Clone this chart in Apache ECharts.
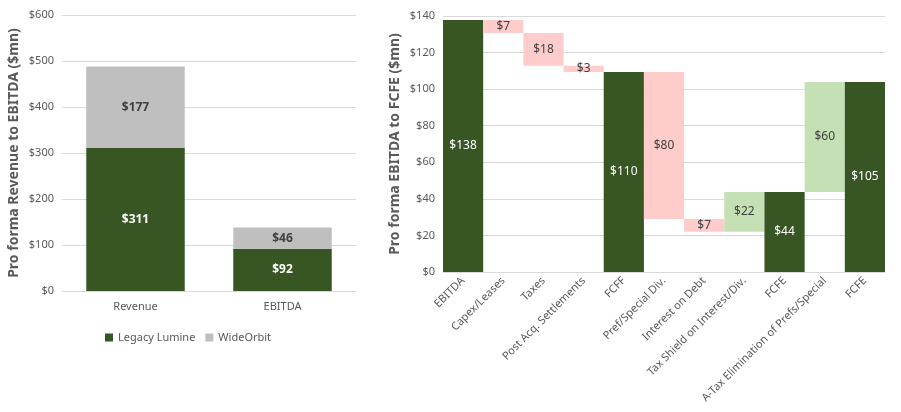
<!DOCTYPE html>
<html>
<head>
<meta charset="utf-8">
<script src="https://cdn.jsdelivr.net/npm/echarts@6/dist/echarts.min.js"></script>
<style>
    html, body { margin: 0; padding: 0; background: #fff; }
    #chart { width: 901px; height: 412px; }
</style>
</head>
<body>
<div id="chart"></div>
<script>
// left chart: pro forma revenue to EBITDA
var mixCategories = ['Revenue', 'EBITDA'];
var legacyValues = [311, 92];
var wideOrbitValues = [177, 46];

// right chart: EBITDA to FCFE bridge (null = subtotal)
var wfCategories = ['EBITDA', 'Capex/Leases', 'Taxes', 'Post Acq. Settlements', 'FCFF',
    'Pref/Special Div.', 'Interest on Debt', 'Tax Shield on Interest/Div.', 'FCFE',
    'A-Tax Elimination of Prefs/Special', 'FCFE'];
var wfSteps = [137.8, -7.1, -17.9, -3.4, null, -80.4, -7.0, 21.7, null, 60.2, null];
var wfLabels = ['$138', '$7', '$18', '$3', '$110', '$80', '$7', '$22', '$44', '$60', '$105'];

var darkGreen = '#375623';
var grey = '#BFBFBF';
var pink = '#FFCCCC';
var lightGreen = '#C5E0B4';
var textGrey = '#595959';
var font = 'Noto Sans';

// build invisible base + visible part of the waterfall
var wfBase = [], wfBar = [];
var running = 0;
for (var i = 0; i < wfSteps.length; i++) {
    var s = wfSteps[i];
    if (s === null || i === 0) {
        if (i === 0) running = s;
        wfBase.push(0);
        wfBar.push({ value: running, itemStyle: { color: darkGreen }, label: { color: '#fff' } });
    } else if (s < 0) {
        running += s;
        wfBase.push(running);
        wfBar.push({ value: -s, itemStyle: { color: pink }, label: { color: '#404040' } });
    } else {
        wfBase.push(running);
        running += s;
        wfBar.push({ value: s, itemStyle: { color: lightGreen }, label: { color: '#404040' } });
    }
}

var chart = echarts.init(document.getElementById('chart'));
var option = {
    animation: false,
    textStyle: { fontFamily: font },
    legend: {
        data: ['Legacy Lumine', 'WideOrbit'],
        left: 100,
        top: 327,
        icon: 'rect',
        itemWidth: 8,
        itemHeight: 8,
        itemGap: 10,
        textStyle: { color: textGrey, fontSize: 11, fontFamily: font }
    },
    grid: [
        { left: 62, right: 545, top: 15, bottom: 121 },
        { left: 443, right: 16, top: 16, bottom: 140 }
    ],
    xAxis: [
        {
            type: 'category',
            gridIndex: 0,
            data: mixCategories,
            axisLine: { lineStyle: { color: '#D9D9D9' } },
            axisTick: { show: false },
            axisLabel: { color: textGrey, fontSize: 11, margin: 10 }
        },
        {
            type: 'category',
            gridIndex: 1,
            data: wfCategories,
            axisLine: { lineStyle: { color: '#D9D9D9' } },
            axisTick: { show: false },
            axisLabel: { color: textGrey, fontSize: 11, rotate: 45, interval: 0, margin: 7 }
        }
    ],
    yAxis: [
        {
            type: 'value',
            gridIndex: 0,
            min: 0,
            max: 600,
            interval: 100,
            name: 'Pro forma Revenue to EBITDA ($mn)',
            nameLocation: 'middle',
            nameGap: 41,
            nameTextStyle: { color: textGrey, fontSize: 14, fontWeight: 'bold' },
            axisLine: { show: false },
            axisTick: { show: false },
            axisLabel: { color: textGrey, fontSize: 11, formatter: '${value}' },
            splitLine: { lineStyle: { color: '#D9D9D9' } }
        },
        {
            type: 'value',
            gridIndex: 1,
            min: 0,
            max: 140,
            interval: 20,
            name: 'Pro forma EBITDA to FCFE ($mn)',
            nameLocation: 'middle',
            nameGap: 41,
            nameTextStyle: { color: textGrey, fontSize: 14, fontWeight: 'bold' },
            axisLine: { show: false },
            axisTick: { show: false },
            axisLabel: { color: textGrey, fontSize: 11, formatter: '${value}' },
            splitLine: { lineStyle: { color: '#D9D9D9' } }
        }
    ],
    series: [
        {
            name: 'Legacy Lumine',
            type: 'bar',
            xAxisIndex: 0,
            yAxisIndex: 0,
            stack: 'mix',
            barWidth: '67%',
            itemStyle: { color: darkGreen },
            label: { show: true, position: 'inside', color: '#fff', fontWeight: 'bold', fontSize: 12, formatter: '${c}' },
            data: legacyValues
        },
        {
            name: 'WideOrbit',
            type: 'bar',
            xAxisIndex: 0,
            yAxisIndex: 0,
            stack: 'mix',
            itemStyle: { color: grey },
            label: { show: true, position: 'inside', color: '#404040', fontWeight: 'bold', fontSize: 12, formatter: '${c}' },
            data: wideOrbitValues
        },
        {
            name: 'base',
            type: 'bar',
            xAxisIndex: 1,
            yAxisIndex: 1,
            stack: 'wf',
            barCategoryGap: 0,
            itemStyle: { color: 'transparent' },
            silent: true,
            data: wfBase
        },
        {
            name: 'bridge',
            type: 'bar',
            xAxisIndex: 1,
            yAxisIndex: 1,
            stack: 'wf',
            barCategoryGap: 0,
            label: {
                show: true,
                position: 'inside',
                fontSize: 12,
                formatter: function (p) { return wfLabels[p.dataIndex]; }
            },
            data: wfBar
        }
    ]
};
chart.setOption(option);
window.onresize = chart.resize;
</script>
</body>
</html>
